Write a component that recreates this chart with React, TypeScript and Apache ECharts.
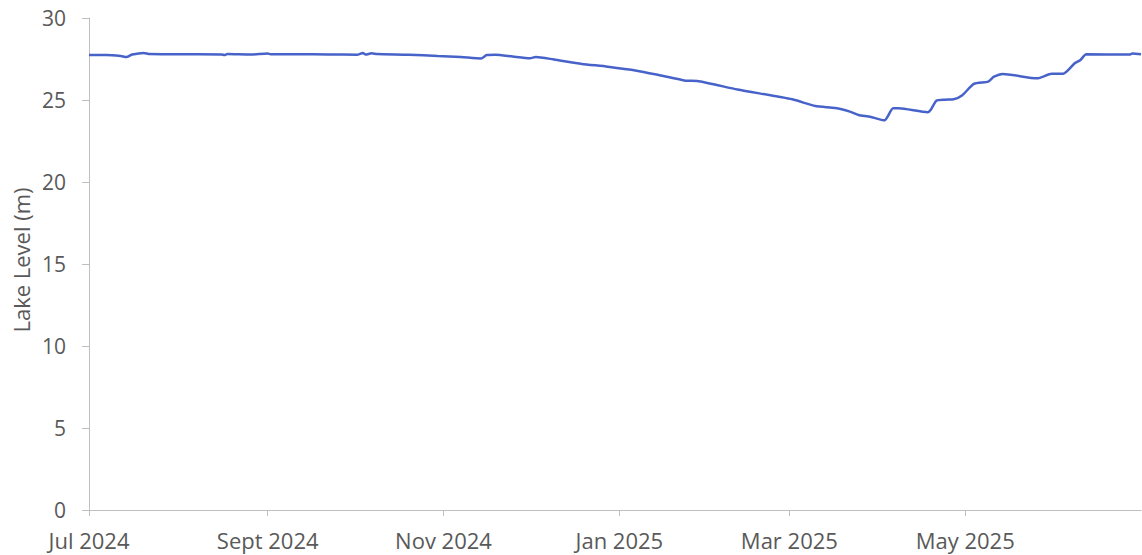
import React, { useEffect, useRef } from "react";
import * as echarts from "echarts";

const dates: string[] = [
  "2024-07-01", "2024-07-07", "2024-07-12", "2024-07-14", "2024-07-16", "2024-07-20", "2024-07-22",
  "2024-07-31", "2024-08-16", "2024-08-17", "2024-08-18", "2024-08-26", "2024-09-01", "2024-09-02",
  "2024-09-12", "2024-09-22", "2024-10-02", "2024-10-04", "2024-10-05", "2024-10-07", "2024-10-09",
  "2024-10-20", "2024-10-30", "2024-11-07", "2024-11-14", "2024-11-16", "2024-11-19", "2024-11-25",
  "2024-12-01", "2024-12-03", "2024-12-09", "2024-12-13", "2024-12-19", "2024-12-28",
  "2025-01-07", "2025-01-15", "2025-01-24", "2025-01-28", "2025-02-11", "2025-03-02", "2025-03-10",
  "2025-03-17", "2025-03-22", "2025-03-25", "2025-03-29", "2025-04-03", "2025-04-06", "2025-04-08",
  "2025-04-18", "2025-04-19", "2025-04-21", "2025-04-24", "2025-04-27", "2025-04-30", "2025-05-04",
  "2025-05-09", "2025-05-11", "2025-05-14", "2025-05-26", "2025-05-31", "2025-06-04", "2025-06-08",
  "2025-06-10", "2025-06-12", "2025-06-27", "2025-06-28", "2025-07-01",
];

const levels: number[] = [
  27.74, 27.74, 27.68, 27.62, 27.77, 27.87, 27.8,
  27.79, 27.77, 27.74, 27.8, 27.77, 27.84, 27.79,
  27.79, 27.78, 27.76, 27.87, 27.77, 27.85, 27.8,
  27.76, 27.68, 27.62, 27.53, 27.74, 27.76, 27.65,
  27.55, 27.62, 27.48, 27.36, 27.2, 27.03,
  26.79, 26.51, 26.18, 26.16, 25.64, 25.04, 24.63,
  24.51, 24.29, 24.09, 23.98, 23.76, 24.49, 24.49,
  24.25, 24.39, 24.96, 25.02, 25.04, 25.29, 25.98,
  26.12, 26.42, 26.59, 26.32, 26.6, 26.6, 27.24,
  27.44, 27.79, 27.77, 27.83, 27.79,
];

const tickDates: string[] = ["2024-07-01", "2024-09-01", "2024-11-01", "2025-01-01", "2025-03-01", "2025-05-01"];
const tickLabels: string[] = ["Jul 2024", "Sept 2024", "Nov 2024", "Jan 2025", "Mar 2025", "May 2025"];

const axisMin = "2024-07-01";
const axisMax = "2025-07-01";
const yTitle = "Lake Level (m)";

const toTs = (d: string) => {
  const [y, m, dd] = d.split("-").map(Number);
  return Date.UTC(y, m - 1, dd);
};

export default function App() {
  const ref = useRef<HTMLDivElement>(null);
  useEffect(() => {
    if (!ref.current) return;
    const chart = echarts.init(ref.current, undefined, { renderer: "svg" });
    const tickTs = tickDates.map(toTs);
    const font = "'Open Sans', sans-serif";
    chart.setOption({
      animation: false,
      grid: { left: 89, right: 1, top: 18, bottom: 45 },
      graphic: [
        {
          type: "text",
          x: 21,
          y: 260,
          rotation: Math.PI / 2,
          style: {
            text: yTitle,
            fill: "#595959",
            fontFamily: font,
            fontSize: 22,
            textAlign: "center",
            textVerticalAlign: "middle",
          },
        },
      ],
      xAxis: {
        type: "value",
        min: toTs(axisMin),
        max: toTs(axisMax),
        axisLine: { show: true, onZero: false, lineStyle: { color: "#bfbfbf", width: 1 } },
        axisTick: { show: true, length: 6, lineStyle: { color: "#bfbfbf" }, customValues: tickTs },
        splitLine: { show: false },
        axisLabel: {
          customValues: tickTs,
          margin: 19,
          color: "#595959",
          fontFamily: font,
          fontSize: 22,
          showMinLabel: true,
          formatter: (v: number) => {
            const i = tickTs.indexOf(v);
            return i >= 0 ? tickLabels[i] : "";
          },
        },
      },
      yAxis: {
        type: "value",
        min: 0,
        max: 30,
        interval: 5,
        axisLine: { show: true, lineStyle: { color: "#bfbfbf", width: 1 } },
        axisTick: { show: true, length: 7, lineStyle: { color: "#bfbfbf" } },
        splitLine: { show: false },
        axisLabel: { margin: 23, color: "#595959", fontFamily: font, fontSize: 21 },
      },
      series: [
        {
          type: "line",
          data: dates.map((d, i) => [toTs(d), levels[i]]),
          showSymbol: false,
          smooth: 0.2,
          lineStyle: { color: "#4763c9", width: 2.5 },
        },
      ],
    });
    return () => chart.dispose();
  }, []);
  return (
    <div
      ref={ref}
      style={{ position: "fixed", left: 0, top: 0, width: 1142, height: 555, background: "#fff" }}
    />
  );
}
